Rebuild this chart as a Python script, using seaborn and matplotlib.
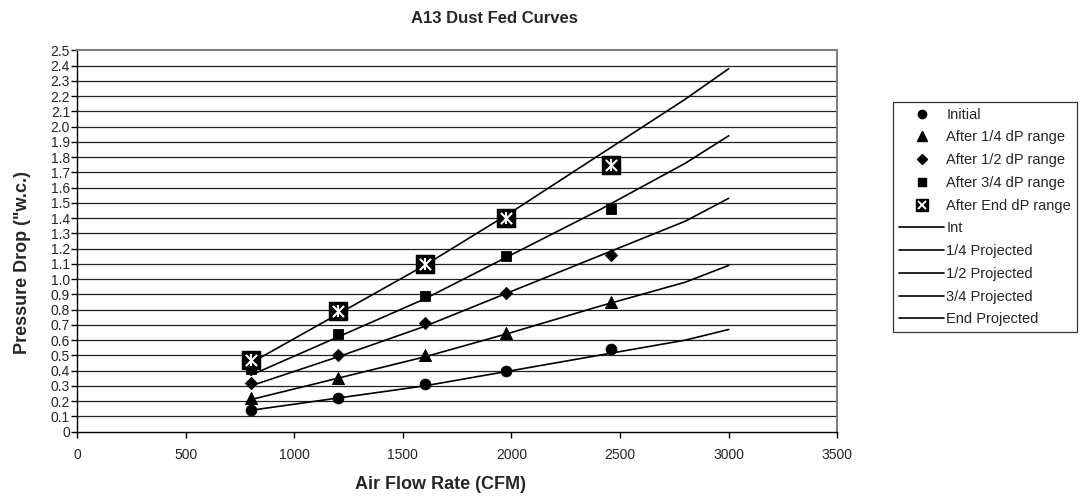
import numpy as np
import pandas as pd
import matplotlib
matplotlib.use('Agg')
import matplotlib.pyplot as plt
import seaborn as sns
from matplotlib.lines import Line2D

# measured points
x_meas = [800, 1200, 1600, 1975, 2460]
initial = [0.14, 0.22, 0.31, 0.40, 0.545]
after_q1 = [0.22, 0.35, 0.50, 0.65, 0.85]
after_q2 = [0.32, 0.50, 0.71, 0.91, 1.16]
after_q3 = [0.41, 0.64, 0.89, 1.15, 1.46]
after_end = [0.47, 0.79, 1.10, 1.40, 1.75]

# projected curves
x_proj = [800, 1200, 1600, 2000, 2400, 2800, 3000]
int_proj = [0.14, 0.22, 0.30, 0.40, 0.50, 0.60, 0.67]
q1_proj = [0.21, 0.35, 0.49, 0.65, 0.82, 0.98, 1.09]
q2_proj = [0.30, 0.49, 0.69, 0.92, 1.15, 1.38, 1.53]
q3_proj = [0.37, 0.62, 0.87, 1.16, 1.45, 1.76, 1.94]
end_proj = [0.45, 0.77, 1.09, 1.44, 1.81, 2.18, 2.38]

meas_names = ['Initial', 'After 1/4 dP range', 'After 1/2 dP range',
              'After 3/4 dP range', 'After End dP range']
proj_names = ['Int', '1/4 Projected', '1/2 Projected', '3/4 Projected', 'End Projected']

sns.set_style('white')
plt.rcParams['font.family'] = ['Liberation Sans', 'DejaVu Sans']

meas = pd.DataFrame({'x': x_meas * 5,
                     'y': initial + after_q1 + after_q2 + after_q3 + after_end,
                     'series': np.repeat(meas_names, len(x_meas))})
proj = pd.DataFrame({'x': x_proj * 5,
                     'y': int_proj + q1_proj + q2_proj + q3_proj + end_proj,
                     'series': np.repeat(proj_names, len(x_proj))})

fig = plt.figure(figsize=(10.8, 4.99), dpi=100)
ax = fig.add_axes([0.0713, 0.135, 0.704, 0.764])

for y in np.arange(0.1, 2.45, 0.1):
    ax.axhline(y, color='#222222', lw=0.9, zorder=0)

sns.lineplot(data=proj, x='x', y='y', units='series', estimator=None,
             color='black', lw=1.2, ax=ax, legend=False, zorder=2)

mk = {'Initial': 'o', 'After 1/4 dP range': '^', 'After 1/2 dP range': 'D',
      'After 3/4 dP range': 's', 'After End dP range': 's'}
sz = {'Initial': 60, 'After 1/4 dP range': 75, 'After 1/2 dP range': 40,
      'After 3/4 dP range': 55, 'After End dP range': 170}
for name in meas_names:
    sub = meas[meas.series == name]
    sns.scatterplot(data=sub, x='x', y='y', marker=mk[name], s=sz[name],
                    color='black', edgecolor='black', ax=ax, zorder=3, legend=False)
end_sub = meas[meas.series == 'After End dP range']
ax.scatter(end_sub.x, end_sub.y, marker='x', s=65, color='white', lw=1.5, zorder=4)
ax.scatter(end_sub.x, end_sub.y, marker='|', s=85, color='white', lw=1.5, zorder=4)

ax.set_xlim(0, 3500)
ax.set_ylim(0, 2.5)
ax.set_xticks(range(0, 3501, 500))
ax.set_xticklabels([str(v) for v in range(0, 3501, 500)])
yt = np.round(np.arange(0, 2.51, 0.1), 1)
ax.set_yticks(yt)
ax.set_yticklabels(['0'] + [f'{v:.1f}' for v in yt[1:]])
ax.tick_params(axis='both', direction='out', length=4, width=1, labelsize=10,
               bottom=True, left=True, color='black')
ax.tick_params(axis='x', pad=8)
ax.tick_params(axis='y', pad=1)
for s in ['top', 'right']:
    ax.spines[s].set_color('#808080')
    ax.spines[s].set_linewidth(1.5)
for s in ['left', 'bottom']:
    ax.spines[s].set_color('black')
    ax.spines[s].set_linewidth(1.0)

ax.set_xlabel('Air Flow Rate (CFM)', fontsize=13, fontweight='bold', va='center')
ax.set_ylabel('Pressure Drop ("w.c.)', fontsize=13, fontweight='bold', va='center')
ax.xaxis.set_label_coords(0.478, -0.139)
ax.yaxis.set_label_coords(-0.072, 0.443)
fig.text(0.458, 0.963, 'A13 Dust Fed Curves', ha='center', va='center',
         fontsize=12, fontweight='bold')

handles = []
for name in meas_names:
    if name == 'After End dP range':
        handles.append((Line2D([], [], ls='', marker='s', ms=9, color='black'),
                        Line2D([], [], ls='', marker='x', ms=6, mew=1.4, color='white')))
    else:
        ms = {'o': 6, '^': 7, 'D': 5, 's': 6}[mk[name]]
        handles.append(Line2D([], [], ls='', marker=mk[name], ms=ms, color='black'))
for name in proj_names:
    handles.append(Line2D([], [], color='black', lw=1.2))

leg = fig.legend(handles, meas_names + proj_names, loc='upper left',
                 bbox_to_anchor=(0.827, 0.796), frameon=True, fancybox=False,
                 fontsize=10.5, handlelength=3.1, handletextpad=0.15,
                 labelspacing=0.6, borderpad=0.4, borderaxespad=0)
leg.get_frame().set_edgecolor('black')
leg.get_frame().set_linewidth(0.9)

fig.savefig('out.png', dpi=100)
